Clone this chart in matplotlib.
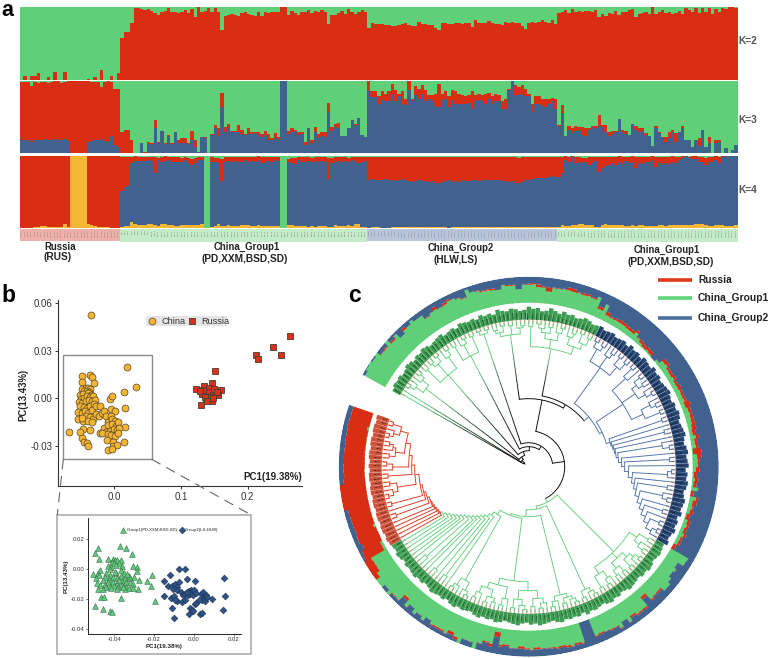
import re
import numpy as np
import matplotlib
matplotlib.use("Agg")
import matplotlib.pyplot as plt

plt.rcParams["font.family"] = ["Liberation Sans", "DejaVu Sans"]

W, H = 777, 658
GREEN = "#5fcf78"
RED = "#d92e14"
BLUE = "#41628f"
YELLOW = "#f6b733"

# admixture proportions per sample (percent, cumulative from the bottom of each bar)
k2_red = [0,5,0,5,6,10,0,0,4,0,11,0,0,11,0,0,0,0,0,0,1,0,4,0,14,0,0,6,0,10,
    58,66,66,79,99,99,98,96,98,95,92,90,94,95,99,93,93,92,93,96,92,97,87,100,94,95,99,93,99,93,
    69,88,89,91,89,88,92,93,91,89,88,93,88,94,92,93,94,94,100,100,89,95,92,89,94,93,96,92,95,94,
    96,93,77,89,90,92,95,91,97,94,91,93,96,94,
    72,79,77,77,77,76,75,
    74,74,76,77,79,76,74,74,80,77,77,76,75,72,69,79,78,77,77,78,78,77,79,78,73,82,79,79,78,81,
    79,77,77,75,80,79,80,79,79,74,70,79,80,79,80,83,80,79,82,77,
    92,93,96,92,97,94,95,93,95,95,93,96,87,91,88,92,91,95,90,94,93,96,98,87,91,92,93,91,100,91,
    94,96,92,93,91,92,95,91,99,96,94,99,92,99,94,99,91,98,93,99,97,100,100,99]

k3_blue = [19,19,18,16,19,19,19,20,19,19,20,18,18,20,17,0,0,0,0,0,16,17,18,18,20,17,16,24,12,9,
    0,0,0,0,0,0,15,0,13,13,35,14,31,13,24,13,30,15,15,15,13,19,9,2,22,21,0,25,35,24,
    65,30,35,29,29,30,27,25,27,27,28,26,22,25,19,18,21,19,100,100,27,29,31,25,27,12,35,15,29,21,
    24,22,58,31,37,35,24,24,35,46,39,49,25,23,
    87,78,78,69,76,73,73,
    83,73,79,69,67,88,73,81,76,83,73,76,72,66,64,74,76,65,74,69,69,69,69,70,62,72,74,73,69,75,
    69,72,72,62,62,88,100,81,81,83,79,79,58,69,69,66,64,69,72,62,
    38,56,24,33,28,31,33,25,24,33,36,35,38,36,29,24,27,30,47,29,27,25,41,32,30,31,25,24,10,35,
    28,23,16,21,30,16,30,35,19,19,9,19,10,32,9,15,1,14,16,0,7,0,4,11]

k3_red = [99,99,99,93,99,98,99,99,98,99,100,100,98,99,100,100,100,100,100,100,100,99,99,99,92,99,100,99,90,90,
    30,32,32,19,0,0,15,2,16,15,46,16,31,14,25,14,30,19,21,21,15,31,19,2,23,22,0,27,40,35,
    84,37,41,31,31,39,32,27,35,30,30,30,27,31,27,21,28,23,100,100,31,35,32,30,30,16,35,18,37,27,
    29,29,70,37,41,42,24,24,35,46,41,49,25,23,
    100,87,86,79,87,82,86,
    96,88,83,86,76,100,76,94,90,95,88,81,81,82,96,83,86,79,88,86,82,81,79,81,86,81,83,81,83,84,
    79,83,81,73,76,90,100,95,92,95,90,83,69,80,79,76,76,76,77,76,
    39,67,24,38,35,38,36,37,35,35,38,38,53,40,39,29,31,31,47,32,31,26,41,38,35,35,28,24,10,38,
    30,23,23,30,32,28,30,38,19,19,9,19,21,32,9,22,1,19,19,0,7,0,4,11]

k4_yellow = [0,0,0,0,2,2,3,3,1,1,1,1,1,5,1,100,100,100,100,100,6,4,3,2,2,1,1,0,0,0,
    2,3,3,9,5,4,4,4,5,5,4,3,5,5,4,4,3,3,4,4,4,4,4,4,5,0,0,1,3,5,
    3,3,4,3,3,3,4,4,4,3,3,4,3,3,3,3,3,3,0,0,4,4,3,3,3,3,2,3,2,3,
    3,3,2,1,4,3,3,3,4,3,6,6,2,1,
    0,1,1,1,0,0,0,
    1,1,1,1,2,1,1,1,1,1,1,1,1,1,1,1,1,0,1,1,1,1,1,1,1,1,1,1,2,2,
    1,1,2,2,2,1,1,1,1,2,1,2,1,1,1,1,1,1,1,1,
    2,4,3,3,4,4,5,5,4,4,4,1,1,4,5,4,4,4,4,4,3,3,4,3,4,4,3,3,3,3,
    4,4,3,4,4,4,4,4,4,4,4,5,6,5,4,3,3,4,4,4,3,3,3,4]

k4_blue = [0,0,0,0,2,2,3,3,1,1,1,1,1,5,1,100,100,100,100,100,6,4,3,2,2,1,1,0,0,0,
    52,57,60,90,93,93,93,93,94,93,76,95,92,93,94,91,91,92,91,94,90,87,90,94,94,0,0,92,92,90,
    65,92,93,91,93,92,92,94,91,93,92,94,90,92,93,92,94,93,0,0,92,90,89,94,92,91,93,91,93,92,
    93,92,68,90,92,93,91,93,92,94,91,90,92,93,
    66,68,67,67,66,68,66,
    66,65,67,68,66,65,64,65,66,65,65,64,65,63,62,64,65,66,64,65,64,66,65,65,66,67,65,66,66,67,
    66,67,66,65,65,64,65,63,62,64,66,66,68,69,70,69,70,71,72,71,
    71,76,95,92,99,90,91,90,92,88,90,93,78,83,86,88,90,87,91,89,93,90,92,84,90,89,91,92,94,85,
    90,88,90,89,92,90,94,97,100,97,96,96,92,92,88,91,92,95,90,98,100,100,100,100]

k4_red = [100]*30 + [99,98,98,99,100,99,99,98,98,99,98,97,99,100,99,99,98,98,97,98,97,96,97,99,99,0,0,98,97,97,
    96,98,99,98,99,99,98,99,99,98,98,100,98,99,99,98,99,99,0,0,96,97,97,98,98,98,99,97,98,99,
    98,99,97,97,98,98,99,98,97,99,98,98,99,98,
    98,99,98,98,98,99,99,
    99,99,98,98,99,99,98,99,99,98,98,99,99,98,98,99,99,98,98,99,99,98,99,99,98,98,99,98,99,99,
    98,99,98,99,98,98,99,99,97,98,99,98,98,99,99,98,98,99,98,99,
    98,99,100,98,100,99,99,97,97,99,98,99,98,99,99,99,98,99,100,98,99,98,100,99,99,98,99,99,100,98,
    99,98,99,98,100,99,99,100,100,99,100,100,98,99,97,99,99,100,98,100,100,100,100,100]

group_sizes = [30, 74, 57, 54]
strip_colors = ["#eeb0a8", "#c5ecc8", "#b9c5da", "#c5ecc8"]
strip_heights = [11.5, 13, 11.5, 13]
name_prefix = ["RUS", "PD", "HLW", "XXM"]

label_len = [13,12,13,13,12,13,13,12,13,13,12,13,12,13,13,12,13,13,12,13,13,12,13,13,12,13,13,12,13,12,
    11,10,12,11,9,11,10,11,12,10,11,9,10,12,11,10,11,9,11,12,10,11,10,9,11,12,10,11,10,12,
    11,9,10,11,12,10,9,11,10,12,11,10,9,11,12,10,11,10,11,9,12,10,11,10,9,11,12,10,11,9,
    10,12,11,10,9,11,10,12,11,9,10,11,10,9,
    12,10,11,13,11,12,10,13,11,12,13,11,10,12,13,11,12,10,13,12,11,13,12,10,11,13,12,11,10,12,
    13,11,12,10,11,13,12,11,10,12,11,13,10,11,12,9,11,10,12,9,11,10,9,11,10,9,11,
    10,9,11,12,10,9,11,10,12,9,11,13,10,9,12,11,13,10,9,11,12,10,11,13,9,11,10,12,9,11,
    10,11,12,9,11,10,9,12,11,10,9,11,12,10,11,9,11,12,10,9,11,10,11,9]

# phylogeny: "x" is a tip, "(...)r" an inner node at radius r (tips run counter-clockwise)
c85 = "(((xx)141((xx)142x)136)128(((xx)140(xx)141)134((xx)142(x(xx)143)138)133)127(((xx)141x)135(xx)140)129)120"
c80 = "((xx)142(x(xx)143)139)135"
c72 = "(((xx)142x)137((xx)141(x(xx)143)139)136)132"
c52 = "(((((xx)141x)135((xx)142(xx)140)136)128((xx)141x)134)122(((xx)142(x(xx)143)139)133((xx)140((xx)142x)137)132)124)115"
c46 = "(((xx)142x)138(x(xx)143)139)130"
russia_base = "(((xx)142(x(xx)143)139)133(((xx)141x)137(xx)140)134)125"
russia_steps = [("((xx)142x)136",120), ("(xx)141",117), ("((xx)140(x(xx)143)138)133",114), ("(xx)142",110),
    ("x",108), ("(xx)141",106), ("x",104), ("x",103), ("x",102), ("x",101), ("x",100)]
china1_steps = [("x",98), ("x",95), ("x",92), ("x",89), ("x",86), ("x",83), ("(xx)136",80), ("x",77), ("x",74),
    ("(xx)138",71), ("x",68), ("(xx)137",65), ("x",61), (c46,57), (c52,52), (c72,50), (c80,43), (c85,40)]
blue_base = "(x(xx)143)138"
blue_steps = [("(xx)142",132), ("x",127), ("(xx)141",122), ("x",118), ("((xx)142x)137",114), ("(xx)140",110),
    ("x",107), ("(x(xx)143)139",104), ("x",100), ("(xx)141",96), ("x",93), ("((xx)142x)135",90), ("x",88),
    ("(xx)140",87), ("x",86), ("(xx)141",85)]
c135 = "(((xx)142((xx)141x)136)126(((xx)143x)137((xx)140(xx)142)135)129(x(xx)142)131)113"
c150 = "(((xx)141(xx)142)133((xx)140x)135((xx)141(xx)142)136)122"
c161 = "((((xx)141(xx)143)134((xx)140x)136)128(((xx)142x)137((xx)141(x(xx)143)139)135)129(xx)140)120"
c178 = "(((xx)141x)139(xx)142((xx)143(xx)140)137)133"
c187 = "((xx)143(xx)144)140"
c191 = "((xx)142((xx)143x)138(xx)141)125"
c198 = "(((xx)142x)136((xx)143(xx)141)137(xx)140)122"
c207 = "(((xx)142x)137(x(xx)143)138)129"

# PCA scores
china_pc = [(-0.0345,0.0522),(0.019,0.0195),(0.032,0.0071),(0.015,0.0038),(0.0155,-0.0061),(0.016,-0.0183),
    (0.015,-0.0273),(-0.068,-0.0214),(-0.0095,-0.0327),(-0.037,0.0149),(-0.048,0.0141),(-0.033,0.0134),
    (-0.049,0.0103),(-0.030,0.0099),(-0.049,0.0058),(-0.043,0.0065),(-0.040,0.0062),(-0.037,0.0058),
    (-0.046,0.0047),(-0.041,0.0045),(-0.038,0.0042),(-0.052,0.0021),(-0.047,0.0025),(-0.039,0.0031),
    (-0.035,0.0023),(-0.050,-0.0002),(-0.045,0.0001),(-0.041,0.0012),(-0.036,0.0009),(-0.032,0.0015),
    (-0.053,-0.0021),(-0.048,-0.0032),(-0.043,-0.0018),(-0.038,-0.0012),(-0.034,-0.0015),(-0.029,-0.0011),
    (-0.051,-0.0051),(-0.046,-0.0058),(-0.041,-0.0062),(-0.036,-0.0049),(-0.031,-0.0038),(-0.055,-0.0085),
    (-0.049,-0.0091),(-0.044,-0.0081),(-0.039,-0.0095),(-0.034,-0.0072),(-0.027,-0.0047),(-0.021,-0.0046),
    (-0.054,-0.0130),(-0.047,-0.0142),(-0.042,-0.0115),(-0.037,-0.0121),(-0.032,-0.0128),(-0.028,-0.0102),
    (-0.023,-0.0115),(-0.019,-0.0094),(-0.015,-0.0082),(-0.048,-0.0125),(-0.040,-0.0143),(-0.034,-0.0148),
    (-0.047,-0.0195),(-0.051,-0.0215),(-0.037,-0.0201),(-0.049,-0.0252),(-0.045,-0.0275),(-0.041,-0.0285),
    (-0.040,-0.0298),(-0.022,-0.0222),(-0.0065,-0.0002),(-0.003,0.0011),(-0.005,-0.0065),(0.001,-0.0082),
    (-0.012,-0.0113),(-0.005,-0.0110),(-0.010,-0.0148),(-0.004,-0.0131),(0.001,-0.0145),(-0.015,-0.0190),
    (-0.009,-0.0170),(-0.003,-0.0165),(0.003,-0.0172),(0.006,-0.0150),(-0.012,-0.0215),(-0.006,-0.0205),
    (-0.001,-0.0195),(0.004,-0.0200),(0.007,-0.0185),(-0.019,-0.0222),(-0.010,-0.0225),(-0.005,-0.0232),
    (0.001,-0.0238),(0.005,-0.0218),(-0.011,-0.0262),(-0.002,-0.0273),(-0.002,-0.0302),(0.004,-0.0297),
    (-0.003,-0.0318)]
russia_pc = [(0.2635,0.0392),(0.2375,0.0323),(0.25,0.0275),(0.212,0.0275),(0.215,0.025),(0.151,0.0174),
    (0.1465,0.0099),(0.135,0.0078),(0.122,0.0057),(0.142,0.0067),(0.1495,0.0057),(0.1605,0.0052),(0.13,-0.004),
    (0.147,-0.0017),(0.137,0.0027),(0.132,0.0025),(0.141,0.0042),(0.156,0.0021),(0.1485,0.0021),(0.1375,-0.0006),
    (0.1445,0.001),(0.1325,0.0052),(0.1535,0.0042),(0.136,0.0006),(0.1485,0.0),(0.1395,-0.0015),(0.1285,0.0048)]
group1_pc = [(-0.048,0.0142),(-0.0496,0.0104),(-0.0477,0.0064),(-0.0371,0.0151),(-0.0338,0.0138),(-0.0308,0.0102),
    (-0.0432,0.0069),(-0.0212,-0.004),(-0.0237,-0.0082),(-0.0217,-0.0113),(-0.0197,-0.0213),(-0.0276,-0.0076),
    (-0.0281,-0.0136),(-0.0368,-0.0193),(-0.0494,-0.0247),(-0.0455,-0.0264),(-0.0422,-0.0278),(-0.041,-0.0289),
    (-0.0467,-0.0184),(-0.045,-0.0189),(-0.0303,0.002),(-0.0286,0.0011),(-0.0284,-0.0011),(-0.0405,0.0068),
    (-0.0395,0.0062),(-0.0385,0.0058),(-0.0365,0.0058),(-0.041,0.0045),(-0.040,0.0038),(-0.0375,0.0042),
    (-0.043,0.0022),(-0.0415,0.0015),(-0.039,0.0024),(-0.036,0.002),(-0.0505,-0.0032),(-0.048,-0.0028),
    (-0.047,-0.0008),(-0.0475,-0.0042),(-0.044,-0.0028),(-0.042,-0.0038),(-0.039,-0.0025),(-0.0365,-0.0008),
    (-0.035,-0.0028),(-0.0325,-0.0045),(-0.0492,-0.0062),(-0.0488,-0.0092),(-0.0445,-0.0055),(-0.0425,-0.0068),
    (-0.0405,-0.0055),(-0.0385,-0.0062),(-0.0365,-0.0048),(-0.0345,-0.0058),(-0.032,-0.0062),(-0.030,-0.0052),
    (-0.047,-0.0105),(-0.0445,-0.0098),(-0.043,-0.0085),(-0.0405,-0.0085),(-0.0385,-0.0092),(-0.036,-0.0082),
    (-0.034,-0.0088),(-0.032,-0.0085),(-0.0305,-0.0098),(-0.048,-0.0132),(-0.0455,-0.0135),(-0.044,-0.0118),
    (-0.042,-0.0112),(-0.040,-0.0112),(-0.038,-0.0118),(-0.036,-0.0108),(-0.034,-0.0118),(-0.0325,-0.0128),
    (-0.0415,-0.0128),(-0.0385,-0.0135),(-0.0345,-0.0135),(-0.0305,-0.0125),(-0.0455,-0.0072),(-0.0395,-0.0018),
    (-0.0375,-0.0072),(-0.042,0.0002),(-0.0355,-0.0118),(-0.0335,-0.0032)]
group2_pc = [(-0.0076,-0.0002),(-0.0044,0.0),(-0.0119,-0.0042),(-0.0148,-0.0082),(-0.0032,-0.0064),(0.0005,-0.0082),
    (0.0153,-0.006),(0.0156,-0.0182),(0.0145,-0.0271),(0.0091,-0.0198),(-0.0099,-0.0324),(-0.0111,-0.0258),
    (-0.0151,-0.0182),(-0.0024,-0.03),(0.0029,-0.03),(0.004,-0.0291),(-0.0128,-0.0115),(-0.0108,-0.0112),
    (-0.0095,-0.0102),(-0.0085,-0.0118),(-0.0075,-0.0085),(-0.0105,-0.0135),(-0.0085,-0.0142),(-0.0065,-0.0155),
    (-0.0055,-0.0175),(-0.0045,-0.0165),(-0.003,-0.0172),(-0.0022,-0.0145),(-0.0015,-0.0138),(-0.0008,-0.0155),
    (0.0,-0.0142),(-0.0018,-0.0165),(-0.0005,-0.0175),(0.0012,-0.0162),(-0.0035,-0.0155),(-0.0112,-0.0195),
    (-0.0098,-0.0182),(-0.0085,-0.0215),(-0.0095,-0.0205),(-0.0058,-0.0222),(-0.0045,-0.0205),(-0.0018,-0.0262),
    (-0.0008,-0.0272),(0.0005,-0.0235),(0.001,-0.0225),(0.0035,-0.0165),(0.0045,-0.0155),(0.0055,-0.0178),
    (0.0048,-0.0195),(0.0058,-0.0215),(0.0042,-0.0205),(0.0062,-0.0172),(0.0068,-0.0188),(0.0028,-0.0205),
    (-0.0002,-0.0282)]

legend_names = ["Russia", "China_Group1", "China_Group2"]
legend_colors = ["#e03a1e", "#5fd67a", "#4a6d9c"]

fig = plt.figure(figsize=(W / 100, H / 100), dpi=100, facecolor="white")


def px_axes(x0, y0, x1, y1, **kw):
    return fig.add_axes([x0 / W, 1 - y1 / H, (x1 - x0) / W, (y1 - y0) / H], **kw)


def stacked(ax, layers):
    x = np.arange(215)
    prev = np.zeros(215)
    for top, col in layers:
        top = np.asarray(top, dtype=float)
        ax.bar(x, top - prev, bottom=prev, width=1.02, color=col, linewidth=0)
        prev = top
    ax.set_xlim(-0.5, 214.5)
    ax.set_ylim(0, 100)
    ax.axis("off")


# sample names shown on the strip and on the tree
names = []
for size, prefix in zip(group_sizes, name_prefix):
    names += [f"{prefix}{i + 1}" for i in range(size)]
groups = np.repeat(np.arange(4), group_sizes)

# panel a
full = [100] * 215
stacked(px_axes(20, 7.3, 737.7, 80), [(k2_red, RED), (full, GREEN)])
stacked(px_axes(20, 81.3, 737.7, 153.3), [(k3_blue, BLUE), (k3_red, RED), (full, GREEN)])
stacked(px_axes(20, 156, 737.7, 228), [(k4_yellow, YELLOW), (k4_blue, BLUE), (k4_red, RED), (full, GREEN)])

strip = px_axes(20, 229, 737.7, 242)
strip.bar(np.arange(215), [strip_heights[g] for g in groups], width=1.02,
          color=[strip_colors[g] for g in groups], linewidth=0)
strip.set_xlim(-0.5, 214.5)
strip.set_ylim(13, 0)
strip.axis("off")
for i, name in enumerate(names):
    strip.text(i, 0.4, name, rotation=90, ha="center", va="top", fontsize=1.7, color="#777777")

# panel b, main plot
ax = px_axes(58.3, 300, 302, 486)
ax.scatter(*zip(*china_pc), s=25, color="#f6b531", edgecolor="#55462a", linewidth=0.5, zorder=3)
ax.scatter(*zip(*russia_pc), s=17, marker="s", color="#d93218", edgecolor="#4c3a36", linewidth=0.6, zorder=3)
ax.set_xlim(-0.084, 0.2816)
ax.set_ylim(-0.0553, 0.0619)
ax.set_xticks([0.0, 0.1, 0.2])
ax.set_xticklabels(["0.0", "0.1", "0.2"])
ax.set_yticks([-0.03, 0.0, 0.03, 0.06])
ax.set_yticklabels(["-0.03", "0.00", "0.03", "0.06"])
ax.tick_params(labelsize=7, labelcolor="#333333", color="#333333", length=2, width=0.7, pad=2)
ax.spines[["top", "right"]].set_visible(False)
ax.spines[["left", "bottom"]].set_color("#333333")
ax.patch.set_alpha(0)

# panel b, enlarged China part
ins = px_axes(88.3, 518, 240.7, 634)
ins.scatter(*zip(*group1_pc), s=17, marker="^", color="#5ecb7b", edgecolor="#3c6b4a", linewidth=0.4, zorder=3)
ins.scatter(*zip(*group2_pc), s=12, marker="D", color="#2c5287", edgecolor="#1f3350", linewidth=0.4, zorder=3)
ins.set_xlim(-0.0530, 0.0236)
ins.set_ylim(-0.0433, 0.034)
ins.set_xticks([-0.04, -0.02, 0.0, 0.02])
ins.set_xticklabels(["-0.04", "-0.02", "0.00", "0.02"])
ins.set_yticks([-0.04, -0.02, 0.0, 0.02])
ins.set_yticklabels(["-0.04", "-0.02", "0.00", "0.02"])
ins.tick_params(labelsize=4.3, labelcolor="#333333", color="#333333", length=1.3, width=0.5, pad=1.2)
ins.spines[["top", "right"]].set_visible(False)
ins.spines[["left", "bottom"]].set_linewidth(0.6)
ins.patch.set_alpha(0)

# panel c, rings and tree share one polar axes with radius in pixels
CX, CY, ROUT = 528.7, 466.7, 190
pol = px_axes(CX - ROUT, CY - ROUT, CX + ROUT, CY + ROUT, projection="polar")
pol.set_ylim(0, ROUT)
pol.set_axis_off()
step = np.deg2rad(350 / 215)
thetas = np.deg2rad(161) + (np.arange(215) + 0.5) * step
RIN = 164

# the ring bars overlap a little, otherwise thin light seams show between neighbours
blue_in = ROUT - np.array(k3_blue) / 100 * (ROUT - RIN)
red_in = ROUT - np.array(k3_red) / 100 * (ROUT - RIN)
ring_w = step * 1.25
pol.bar(thetas[1:-1], (red_in - RIN)[1:-1], bottom=RIN, width=ring_w, color=GREEN, linewidth=0)
pol.bar(thetas[[0, -1]], (red_in - RIN)[[0, -1]], bottom=RIN, width=step, color=GREEN, linewidth=0)
pol.bar(thetas[1:-1], (blue_in - red_in)[1:-1], bottom=red_in[1:-1], width=ring_w, color=RED, linewidth=0)
pol.bar(thetas[[0, -1]], (blue_in - red_in)[[0, -1]], bottom=red_in[[0, -1]], width=step, color=RED, linewidth=0)
pol.bar(thetas[1:-1], (ROUT - blue_in)[1:-1], bottom=blue_in[1:-1], width=ring_w, color=BLUE, linewidth=0)
pol.bar(thetas[[0, -1]], (ROUT - blue_in)[[0, -1]], bottom=blue_in[[0, -1]], width=step, color=BLUE, linewidth=0)

label_colors = ["#cf523a", "#3c9c51", "#264570", "#3c9c51"]
pol.bar(thetas, label_len, bottom=147, width=step * 0.96, color=[label_colors[g] for g in groups], linewidth=0)
pol.bar(thetas, 4, bottom=143, width=step * 0.3, color="#eb9a90", linewidth=0)
for th, name in zip(thetas, names):
    deg = np.rad2deg(th) % 360
    flip = 90 < deg < 270
    pol.text(th, 148, name, fontsize=1.6, color="black", va="center", ha="right" if flip else "left",
             rotation=deg + 180 if flip else deg, rotation_mode="anchor")


def ladder(base, steps):
    for sub, r in steps:
        base = f"({base}{sub}){r}"
    return base


def parse_tree(text):
    stack = [[]]
    count = 0
    for tok in re.findall(r"\(|x|\)[\d.]+", text):
        if tok == "(":
            stack.append([])
        elif tok == "x":
            stack[-1].append({"r": 146, "kids": [], "first": count, "last": count, "th": thetas[count]})
            count += 1
        else:
            kids = stack.pop()
            stack[-1].append({"r": float(tok[1:]), "kids": kids, "first": kids[0]["first"], "last": kids[-1]["last"],
                              "th": (kids[0]["th"] + kids[-1]["th"]) / 2})
    assert count == 215, count
    return stack[0][0]


def node_color(node):
    a, b = node["first"], node["last"]
    if b < 30:
        return "#e0351c"
    if b <= 103:
        return "#62d07c"
    if a >= 104 and b <= 160:
        return "#4a70a8"
    if a >= 161:
        return "#62d07c"
    return "black"


def draw_tree(node, parent_r):
    col = node_color(node)
    th, r = node["th"], node["r"]
    if node["first"] >= 161 and parent_r < 75:
        # long basal branches fade from black into the clade colour
        base = np.array(matplotlib.colors.to_rgb(col))
        edges = np.linspace(parent_r, r, 13)
        for j in range(12):
            frac = min(1, ((j + 0.5) / 12) ** 1.5 * 1.25)
            pol.plot([th, th], edges[j:j + 2], color=base * frac, lw=0.65, solid_capstyle="butt")
    else:
        pol.plot([th, th], [parent_r, r], color=col, lw=0.65, solid_capstyle="butt")
    if node["kids"]:
        arc = np.linspace(node["kids"][0]["th"], node["kids"][-1]["th"], 60)
        pol.plot(arc, np.full(60, r), color=col, lw=0.65)
        for kid in node["kids"]:
            draw_tree(kid, r)


russia_clade = ladder(russia_base, russia_steps)
lower = ladder(russia_clade, china1_steps)
blue_clade = f"({ladder(blue_base, blue_steps)}{c135})81"
group2 = f"({blue_clade}{c150})78"
upper = f"(({group2}{c161})72{c178})68"
top = f"({lower}{upper})36"
tree = ladder(top, [(c187, 24), (c191, 20), (c198, 16), (c207, 12), ("x", 9), ("x", 6)])
draw_tree(parse_tree(tree), 4)
pol.set_ylim(0, ROUT)

# everything placed by pixel position goes on one transparent overlay
ov = fig.add_axes([0, 0, 1, 1])
ov.set_xlim(0, W)
ov.set_ylim(H, 0)
ov.axis("off")
ov.patch.set_alpha(0)

for letter, x, y, size in [("a", 1, 16, 15.5), ("b", 1, 302, 16.5), ("c", 348, 302, 16.5)]:
    ov.text(x, y, letter, fontsize=size, fontweight="bold", color="black", ha="left", va="baseline")

for label, y in [("K=2", 41), ("K=3", 120), ("K=4", 190)]:
    ov.text(738.5, y, label, fontsize=7.3, fontweight="bold", color="#555555", va="center")

group_text = [("Russia", 44, 247, 6.9), ("(RUS)", 44, 257, 7.3), ("China_Group1", 214, 247, 6.9),
              ("(PD,XXM,BSD,SD)", 202, 259, 7.3), ("China_Group2", 428, 248, 6.9), ("(HLW,LS)", 434, 260, 7.3),
              ("China_Group1", 634, 250, 6.9), ("(PD,XXM,BSD,SD)", 627, 262, 7.3)]
for label, x, y, size in group_text:
    ov.text(x, y, label, fontsize=size, fontweight="bold", color="#222222", va="center")

ov.text(23.5, 395, "PC(13.43%)", rotation=90, fontsize=6.9, fontweight="bold", color="#222222", ha="center", va="center")
ov.text(302, 477, "PC1(19.38%)", fontsize=7, fontweight="bold", color="#222222", ha="right", va="center")

# legend of the main PCA
ov.add_patch(plt.Rectangle((145.7, 316), 81, 10, color="#e5e5e5", linewidth=0, zorder=1))
ov.scatter([151.7], [321], s=25, color="#f6b531", edgecolor="#55462a", linewidth=0.5, zorder=3)
ov.scatter([192], [321], s=17, marker="s", color="#d93218", edgecolor="#4c3a36", linewidth=0.6, zorder=3)
ov.text(161.7, 321, "China", fontsize=6.6, color="#333333", va="center")
ov.text(201.7, 321, "Russia", fontsize=6.6, color="#333333", va="center")

# zoom box and the connectors to the enlarged plot
ov.add_patch(plt.Rectangle((63.3, 354.7), 88.4, 104.6, fill=False, edgecolor="#8a8a8a", linewidth=1))
ov.add_patch(plt.Rectangle((57.3, 515), 194, 139, fill=False, edgecolor="#a5a5a5", linewidth=1.1))
ov.plot([151.7, 251.3], [459.3, 515], color="#666666", lw=0.8, dashes=(9, 6))
ov.plot([63.3, 57.3], [459.3, 515], color="#666666", lw=0.8, dashes=(9, 6))

# legend of the enlarged PCA
ov.scatter([123.3], [530.3], s=17, marker="^", color="#5ecb7b", edgecolor="#3c6b4a", linewidth=0.4)
ov.scatter([181.7], [530.3], s=12, marker="D", color="#2c5287", edgecolor="#1f3350", linewidth=0.4)
ov.text(127.3, 530.3, "Group1(PD,XXM,BSD,SD)", fontsize=3.1, fontweight="bold", color="#666666", va="center")
ov.text(185, 530.3, "Group2(LS,HLW)", fontsize=3.1, fontweight="bold", color="#666666", va="center")
ov.text(164, 646.7, "PC1(19.38%)", fontsize=4.4, fontweight="bold", color="#222222", ha="center", va="center")
ov.text(66, 576, "PC(13.43%)", rotation=90, fontsize=4.4, fontweight="bold", color="#222222", ha="center", va="center")

# legend of the tree
for name, col, y in zip(legend_names, legend_colors, [280, 297.7, 318]):
    ov.plot([658, 692], [y, y], color=col, lw=2.6, solid_capstyle="butt")
    ov.text(698, y, name, fontsize=7.4, fontweight="bold", color="#222222", va="center")

fig.savefig("out.png", dpi=100)
